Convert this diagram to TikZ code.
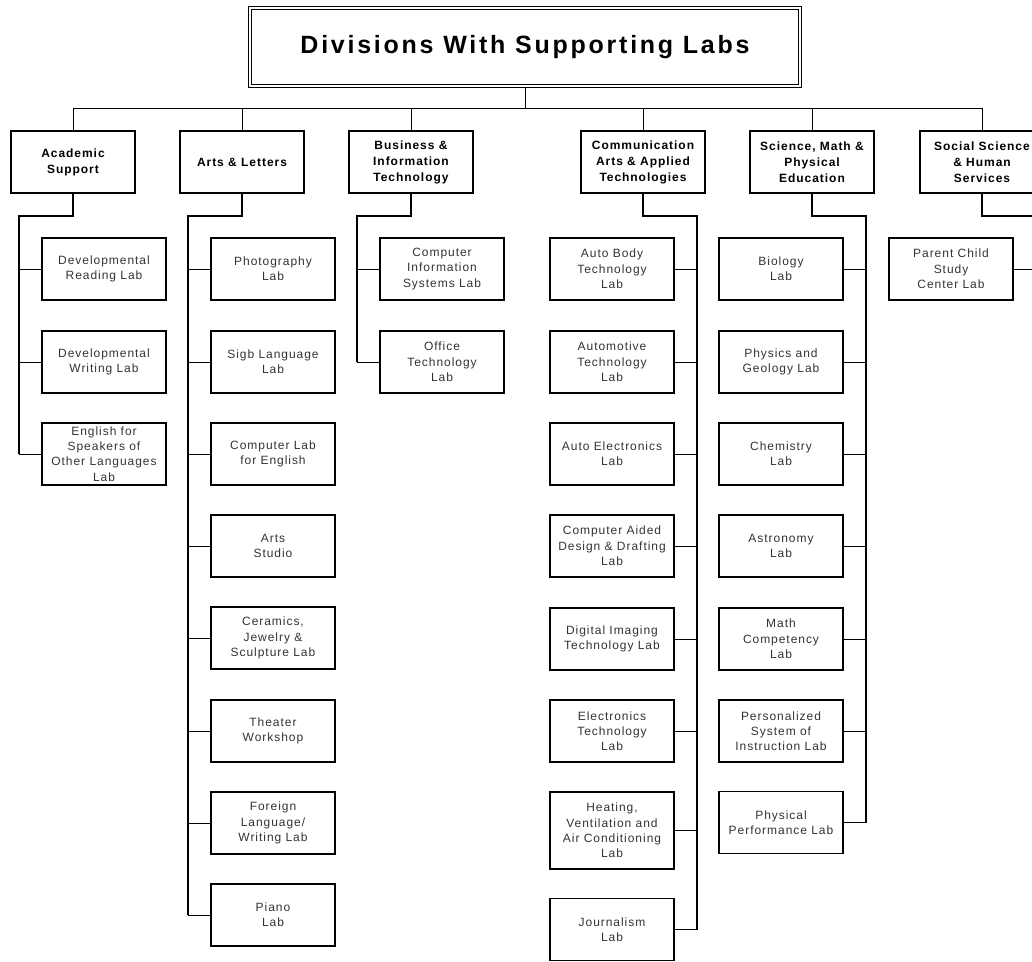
\documentclass[tikz,border=0pt]{standalone}
\usepackage{fontspec}
\setmainfont{Liberation Sans}
\newfontfamily\labfnt[LetterSpace=8]{Liberation Sans}
\newfontfamily\ttlfnt[LetterSpace=11]{Liberation Sans}
\tikzset{
  labbox/.style={draw=black, line width=1.1pt, minimum width=124pt, minimum height=62pt,
    inner sep=0pt, align=center, text=black!80, font=\labfnt\fontsize{12}{15.3}\selectfont},
  divbox/.style={labbox, text=black, font=\labfnt\bfseries\fontsize{12}{16}\selectfont},
  branch/.style={line width=0.9pt},
  spine/.style={line width=1.8pt},
  busline/.style={line width=1pt}
}
\begin{document}
\begin{tikzpicture}[x=1pt,y=-1pt]
\useasboundingbox (0,0) rectangle (1032,961);
\clip (0,0) rectangle (1032,961);
% title
\node[draw=black, line width=1.4pt, minimum width=550pt, minimum height=78pt, inner sep=0pt,
      double distance=1.8pt, font=\ttlfnt\bfseries\fontsize{25}{30}\selectfont] (title) at (525,47) {Divisions With Supporting Labs};
% divisions
\node[divbox] (acad) at (73,162) {Academic\\Support};
\node[divbox] (arts) at (242,162) {Arts \& Letters};
\node[divbox] (bus) at (411,162) {Business \&\\Information\\Technology};
\node[divbox] (comm) at (643,162) {Communication\\Arts \& Applied\\Technologies};
\node[divbox] (sci) at (812,162) {Science, Math \&\\Physical\\Education};
\node[divbox] (soc) at (982,162) {Social Science\\\& Human\\Services};
\coordinate (busL) at (73,108);
\coordinate (busR) at (982,108);
\draw[busline] (title.south) -- (title.south |- busL);
\draw[busline] (busL) -- (busR);
\foreach \d in {acad,arts,bus,comm,sci,soc}{\draw[busline] (\d.north |- busL) -- (\d.north);}
% spine tops
\coordinate (sA) at (19,216);
\coordinate (sB) at (188,216);
\coordinate (sC) at (357,216);
\coordinate (sD) at (697,216);
\coordinate (sE) at (866,216);
\coordinate (sF) at (1035,216);
% Academic Support labs
\node[labbox] (a1) at (104,269) {Developmental\\Reading Lab};
\node[labbox] (a2) at (104,362) {Developmental\\Writing Lab};
\node[labbox] (a3) at (104,454) {English for\\Speakers of\\Other Languages\\Lab};
% Arts & Letters labs
\node[labbox] (b1) at (273,269) {Photography\\Lab};
\node[labbox] (b2) at (273,362) {Sigb Language\\Lab};
\node[labbox] (b3) at (273,454) {Computer Lab\\for English};
\node[labbox] (b4) at (273,546) {Arts\\Studio};
\node[labbox] (b5) at (273,638) {Ceramics,\\Jewelry \&\\Sculpture Lab};
\node[labbox] (b6) at (273,731) {Theater\\Workshop};
\node[labbox] (b7) at (273,823) {Foreign\\Language/\\Writing Lab};
\node[labbox] (b8) at (273,915) {Piano\\Lab};
% Business labs
\node[labbox] (c1) at (442,269) {Computer\\Information\\Systems Lab};
\node[labbox] (c2) at (442,362) {Office\\Technology\\Lab};
% Communication labs
\node[labbox] (d1) at (612,269) {Auto Body\\Technology\\Lab};
\node[labbox] (d2) at (612,362) {Automotive\\Technology\\Lab};
\node[labbox] (d3) at (612,454) {Auto Electronics\\Lab};
\node[labbox] (d4) at (612,546) {Computer Aided\\Design \& Drafting\\Lab};
\node[labbox] (d5) at (612,639) {Digital Imaging\\Technology Lab};
\node[labbox] (d6) at (612,731) {Electronics\\Technology\\Lab};
\node[labbox, minimum height=77pt] (d7) at (612,830.5) {Heating,\\Ventilation and\\Air Conditioning\\Lab};
\node[labbox] (d8) at (612,929.5) {Journalism\\Lab};
% Science labs
\node[labbox] (e1) at (781,269) {Biology\\Lab};
\node[labbox] (e2) at (781,362) {Physics and\\Geology Lab};
\node[labbox] (e3) at (781,454) {Chemistry\\Lab};
\node[labbox] (e4) at (781,546) {Astronomy\\Lab};
\node[labbox] (e5) at (781,639) {Math\\Competency\\Lab};
\node[labbox] (e6) at (781,731) {Personalized\\System of\\Instruction Lab};
\node[labbox] (e7) at (781,822.5) {Physical\\Performance Lab};
% Social labs
\node[labbox] (f1) at (951,269) {Parent Child\\Study\\Center Lab};
% spines
\draw[spine] (acad.south) |- (sA) -- (sA |- a3.west);
\draw[spine] (arts.south) |- (sB) -- (sB |- b8.west);
\draw[spine] (bus.south) |- (sC) -- (sC |- c2.west);
\draw[spine] (comm.south) |- (sD) -- (sD |- d8.east);
\draw[spine] (sci.south) |- (sE) -- (sE |- e7.east);
\draw[spine] (soc.south) |- (sF) -- (sF |- f1.east);
% branches
\foreach \n in {a1,a2,a3}{\draw[branch] (\n.west) -- (\n.west -| sA);}
\foreach \n in {b1,b2,b3,b4,b5,b6,b7,b8}{\draw[branch] (\n.west) -- (\n.west -| sB);}
\foreach \n in {c1,c2}{\draw[branch] (\n.west) -- (\n.west -| sC);}
\foreach \n in {d1,d2,d3,d4,d5,d6,d7,d8}{\draw[branch] (\n.east) -- (\n.east -| sD);}
\foreach \n in {e1,e2,e3,e4,e5,e6,e7}{\draw[branch] (\n.east) -- (\n.east -| sE);}
\draw[branch] (f1.east) -- (f1.east -| sF);
\end{tikzpicture}
\end{document}
